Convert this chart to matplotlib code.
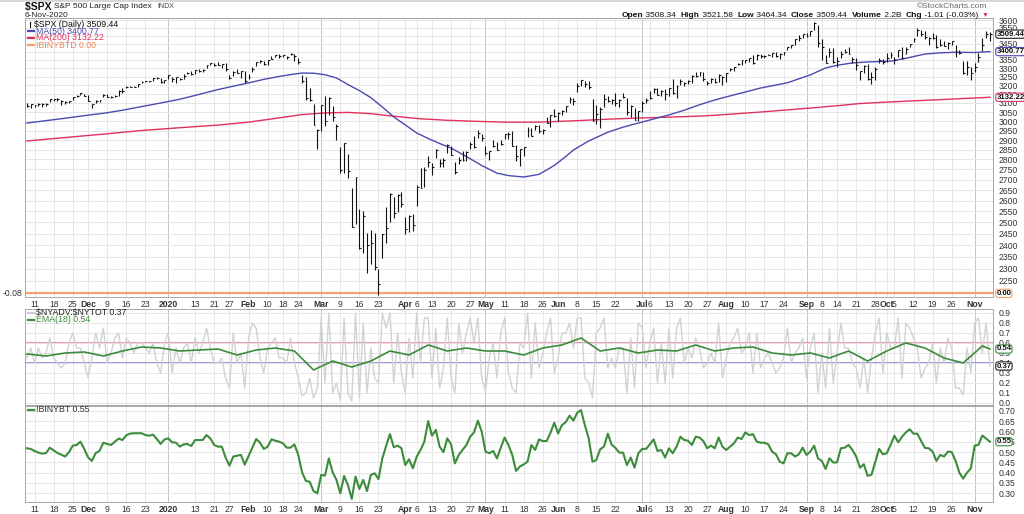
import numpy as np
import matplotlib.pyplot as plt
from matplotlib.lines import Line2D
from matplotlib.ticker import FixedLocator, NullLocator

plt.rcParams['font.family'] = ['Liberation Sans', 'DejaVu Sans']
plt.rcParams['text.parse_math'] = False

# one entry per session, 7-Nov-2019 .. 6-Nov-2020
spx_close = [
    3085.18, 3093.08, 3087.01, 3091.84, 3094.04, 3096.63, 3120.46, 3122.03, 3120.18, 3108.46, 3103.54, 3110.29, 3133.64, 3140.52, 3153.63, 3140.98,
    3113.87, 3093.20, 3112.76, 3117.43, 3145.91, 3135.96, 3132.52, 3141.63, 3168.57, 3168.80, 3191.45, 3192.52, 3191.14, 3205.37, 3221.22, 3224.01, 3223.38, 3239.91, 3240.02, 3221.29, 3230.78,
    3257.85, 3234.85, 3246.28, 3237.18, 3253.05, 3274.70, 3265.35, 3288.13, 3283.15, 3289.29, 3316.81, 3329.62, 3320.79, 3321.75, 3325.54, 3295.47, 3243.63, 3276.24, 3273.40, 3283.66, 3225.52,
    3248.92, 3297.59, 3334.69, 3345.78, 3327.71, 3352.09, 3357.75, 3379.45, 3373.94, 3380.16, 3370.29, 3386.15, 3373.23, 3337.75, 3225.89, 3128.21, 3116.39, 2978.76, 2954.22,
    3090.23, 3003.37, 3130.12, 3023.94, 2972.37, 2746.56, 2882.23, 2741.38, 2480.64, 2711.02, 2386.13, 2529.19, 2398.10, 2409.39, 2304.92, 2237.40, 2447.33, 2475.56, 2630.07, 2541.47, 2626.65, 2584.59,
    2470.50, 2526.90, 2488.65, 2663.68, 2659.41, 2749.98, 2789.82, 2761.63, 2846.06, 2783.36, 2799.55, 2874.56, 2823.16, 2736.56, 2799.31, 2797.80, 2836.74, 2878.48, 2863.39, 2939.51, 2912.43,
    2830.71, 2842.74, 2868.44, 2848.42, 2881.19, 2929.80, 2930.32, 2870.12, 2820.00, 2852.50, 2863.70, 2953.91, 2922.94, 2971.61, 2948.51, 2955.45, 2991.77, 3036.13, 3029.73, 3044.31,
    3055.73, 3080.82, 3122.87, 3112.35, 3193.93, 3232.39, 3207.18, 3190.14, 3002.10, 3041.31, 3066.59, 3124.74, 3113.49, 3115.34, 3097.74, 3117.86, 3131.29, 3050.33, 3083.76, 3009.05, 3053.24, 3100.29,
    3115.86, 3130.01, 3179.72, 3145.32, 3169.94, 3152.05, 3185.04, 3155.22, 3197.52, 3226.56, 3215.57, 3224.73, 3251.84, 3257.30, 3276.02, 3235.66, 3215.63, 3239.41, 3218.44, 3258.44, 3246.22, 3271.12,
    3294.61, 3306.51, 3327.77, 3349.16, 3351.28, 3360.47, 3333.69, 3380.35, 3373.43, 3372.85, 3381.99, 3389.78, 3374.85, 3385.51, 3397.16, 3431.28, 3443.62, 3478.73, 3484.55, 3508.01, 3500.31,
    3526.65, 3580.84, 3455.06, 3426.96, 3331.84, 3398.96, 3339.19, 3340.97, 3383.54, 3401.20, 3385.49, 3357.01, 3319.47, 3281.06, 3315.57, 3236.92, 3246.59, 3298.46, 3351.60, 3335.47, 3363.00,
    3380.80, 3348.44, 3408.63, 3360.95, 3419.45, 3446.83, 3477.14, 3534.22, 3511.93, 3488.67, 3483.34, 3483.81, 3426.92, 3443.12, 3435.56, 3453.49, 3465.39, 3400.97, 3390.68, 3271.03, 3310.11, 3269.96,
    3310.24, 3369.16, 3443.44, 3510.45, 3509.44,
]
spx_high = [
    3097.77, 3093.09, 3088.33, 3102.61, 3098.06, 3098.20, 3120.46, 3124.24, 3127.64, 3118.97, 3110.11, 3112.87, 3133.83, 3142.69, 3154.26, 3150.30,
    3144.31, 3094.97, 3119.38, 3119.45, 3150.60, 3148.87, 3142.12, 3143.98, 3176.28, 3182.68, 3197.71, 3198.22, 3198.48, 3205.48, 3225.65, 3227.78, 3226.43, 3240.08, 3247.93, 3240.92, 3231.72,
    3258.14, 3246.15, 3246.84, 3244.91, 3267.07, 3275.58, 3282.99, 3288.13, 3294.25, 3298.66, 3317.11, 3329.88, 3329.79, 3337.77, 3326.88, 3333.18, 3258.85, 3285.78, 3293.47, 3285.91, 3282.33,
    3268.44, 3306.92, 3337.58, 3347.96, 3341.42, 3352.26, 3375.63, 3381.47, 3385.09, 3380.69, 3375.01, 3393.52, 3389.15, 3360.76, 3259.81, 3246.99, 3182.51, 3097.07, 2959.72,
    3090.96, 3136.72, 3130.94, 3083.04, 2985.93, 2863.89, 2882.59, 2825.60, 2660.95, 2711.33, 2562.98, 2553.93, 2453.57, 2466.97, 2453.01, 2300.73, 2449.71, 2571.42, 2637.01, 2615.91, 2631.80, 2641.39,
    2522.75, 2533.22, 2538.18, 2674.93, 2756.89, 2760.82, 2818.57, 2782.46, 2851.85, 2801.88, 2806.51, 2879.22, 2868.98, 2785.54, 2815.10, 2844.24, 2842.71, 2887.72, 2921.40, 2954.86, 2930.91,
    2869.09, 2844.24, 2898.23, 2891.11, 2901.92, 2932.16, 2944.25, 2945.82, 2874.68, 2852.80, 2865.01, 2968.09, 2964.21, 2980.29, 2978.50, 2956.76, 3021.72, 3036.25, 3068.67, 3049.17,
    3062.18, 3081.07, 3130.94, 3128.91, 3211.72, 3233.13, 3222.71, 3223.27, 3123.53, 3088.42, 3079.76, 3153.45, 3141.16, 3120.92, 3155.53, 3120.85, 3154.90, 3128.44, 3086.25, 3073.73, 3053.89, 3111.51,
    3128.44, 3165.81, 3182.59, 3184.15, 3171.80, 3179.78, 3186.82, 3235.32, 3200.95, 3238.28, 3220.39, 3233.52, 3258.61, 3277.29, 3279.32, 3279.99, 3227.26, 3241.43, 3243.72, 3264.74, 3254.86, 3272.00,
    3302.73, 3306.84, 3330.77, 3351.03, 3352.54, 3363.29, 3381.01, 3387.24, 3387.24, 3378.51, 3387.59, 3395.06, 3399.54, 3390.80, 3399.96, 3432.09, 3444.21, 3481.07, 3501.61, 3509.23, 3514.77,
    3528.03, 3588.11, 3564.85, 3479.15, 3379.97, 3424.77, 3425.55, 3368.95, 3402.93, 3419.48, 3428.92, 3369.10, 3362.27, 3285.57, 3320.31, 3323.35, 3278.70, 3306.88, 3360.74, 3357.92, 3393.56,
    3397.18, 3369.10, 3409.57, 3431.56, 3426.26, 3447.28, 3482.34, 3549.85, 3534.01, 3527.94, 3489.08, 3515.76, 3502.42, 3476.93, 3464.86, 3460.53, 3466.46, 3441.42, 3409.51, 3342.48, 3341.05, 3304.93,
    3330.14, 3389.49, 3486.25, 3529.05, 3521.58,
]
spx_low = [
    3080.23, 3073.58, 3075.82, 3084.73, 3078.80, 3083.26, 3104.60, 3109.59, 3113.47, 3091.41, 3094.55, 3099.26, 3117.44, 3131.00, 3143.41, 3139.34,
    3110.78, 3070.33, 3102.53, 3103.76, 3134.62, 3135.46, 3126.09, 3133.21, 3138.47, 3156.51, 3183.63, 3191.03, 3191.14, 3192.32, 3216.03, 3222.30, 3220.51, 3227.20, 3234.37, 3216.57, 3212.03,
    3235.53, 3222.34, 3214.64, 3232.43, 3236.67, 3263.67, 3260.86, 3268.43, 3277.19, 3280.69, 3302.82, 3318.86, 3316.61, 3320.04, 3301.87, 3281.53, 3234.50, 3253.22, 3271.89, 3242.80, 3214.68,
    3235.66, 3280.61, 3313.75, 3334.39, 3322.12, 3317.77, 3352.72, 3369.72, 3360.52, 3366.15, 3355.61, 3378.83, 3341.02, 3328.45, 3214.65, 3118.77, 3108.99, 2977.39, 2855.84,
    2945.19, 2976.63, 3034.38, 2999.83, 2901.54, 2734.43, 2734.00, 2707.22, 2478.86, 2492.37, 2380.94, 2367.04, 2280.52, 2319.78, 2295.56, 2191.86, 2344.44, 2407.53, 2500.72, 2520.02, 2545.28, 2571.15,
    2447.49, 2455.79, 2459.96, 2575.06, 2657.67, 2663.30, 2762.36, 2721.17, 2805.10, 2761.54, 2764.32, 2830.88, 2820.43, 2727.10, 2775.95, 2794.26, 2791.76, 2852.89, 2860.71, 2912.16, 2892.47,
    2821.61, 2797.85, 2863.55, 2847.65, 2876.48, 2902.88, 2903.44, 2869.59, 2793.15, 2766.64, 2816.78, 2913.86, 2922.35, 2953.63, 2938.57, 2933.59, 2988.17, 2969.75, 3023.40, 2998.61,
    3031.54, 3051.64, 3097.44, 3090.41, 3163.84, 3196.00, 3193.11, 3181.49, 2999.49, 2984.47, 2965.66, 3076.06, 3108.03, 3093.51, 3083.11, 3079.77, 3127.12, 3032.13, 3024.01, 3004.63, 2999.74, 3047.83,
    3101.17, 3124.52, 3155.29, 3142.93, 3136.53, 3115.70, 3140.08, 3149.43, 3127.66, 3200.76, 3198.59, 3205.65, 3215.16, 3247.77, 3253.10, 3222.66, 3200.05, 3214.25, 3216.17, 3220.51, 3204.13, 3220.26,
    3284.53, 3286.37, 3317.37, 3318.14, 3328.72, 3335.44, 3326.44, 3352.26, 3363.35, 3361.64, 3379.22, 3370.15, 3369.66, 3354.69, 3379.31, 3413.13, 3421.58, 3444.15, 3468.35, 3484.32, 3493.25,
    3494.60, 3535.23, 3427.41, 3349.63, 3329.27, 3366.84, 3329.25, 3310.47, 3363.56, 3389.25, 3384.45, 3328.82, 3292.40, 3229.10, 3270.95, 3232.57, 3209.45, 3228.44, 3332.91, 3327.54, 3340.47,
    3361.39, 3323.69, 3367.27, 3354.54, 3384.56, 3428.15, 3458.07, 3499.61, 3500.86, 3480.55, 3440.89, 3480.45, 3419.93, 3435.65, 3433.06, 3415.34, 3440.45, 3364.86, 3388.71, 3268.89, 3259.82, 3233.94,
    3279.74, 3336.25, 3405.17, 3485.74, 3464.34,
]

# moving averages (session index, value)
ma50_days = [0, 5, 10, 15, 21, 25, 30, 35, 40, 45, 50, 55, 58, 62, 66, 70, 72, 75, 78, 81, 84, 87, 90, 93, 96, 99, 102, 105,
             108, 111, 115, 119, 123, 126, 130, 134, 138, 141, 143, 147, 152, 156, 160, 164, 168, 172, 176, 180, 184, 188,
             192, 196, 199, 202, 205, 209, 212, 216, 220, 226, 230, 235, 239, 243, 248, 252]
ma50_vals = [2990, 3003, 3016, 3030, 3046, 3060, 3080, 3100, 3121, 3148, 3176, 3200, 3214, 3235, 3252, 3266, 3272, 3271, 3262,
             3243, 3205, 3170, 3130, 3078, 3023, 2980, 2937, 2908, 2882, 2858, 2815, 2770, 2732, 2720, 2713, 2726, 2770, 2815,
             2848, 2895, 2941, 2968, 2990, 3012, 3034, 3060, 3090, 3117, 3140, 3162, 3185, 3202, 3215, 3238, 3261, 3302, 3318,
             3332, 3338, 3343, 3360, 3386, 3393, 3397, 3395, 3400.77]
ma200_days = [0, 10, 20, 30, 40, 50, 58, 65, 72, 78, 84, 90, 96, 103, 110, 118, 125, 134, 143, 152, 160, 168, 175, 180, 186,
              192, 198, 205, 212, 218, 225, 235, 244, 252]
ma200_vals = [2895, 2913, 2931, 2950, 2965, 2979, 2995, 3015, 3036, 3045, 3048, 3041, 3027, 3013, 3005, 2999, 2995, 2995, 3002,
              3011, 3017, 3022, 3027, 3032, 3041, 3050, 3060, 3072, 3085, 3097, 3105, 3115, 3124, 3132.22]

# $NYADV:$NYTOT, daily
nyadv_ratio = [
    0.45, 0.55, 0.40, 0.55, 0.45, 0.50, 0.65, 0.45, 0.40, 0.35, 0.40, 0.60, 0.70, 0.55, 0.55, 0.40,
    0.25, 0.45, 0.70, 0.55, 0.75, 0.40, 0.50, 0.65, 0.70, 0.45, 0.65, 0.60, 0.50, 0.60, 0.60, 0.55, 0.50, 0.60, 0.40, 0.30, 0.60,
    0.70, 0.30, 0.55, 0.40, 0.55, 0.60, 0.40, 0.65, 0.50, 0.60, 0.75, 0.55, 0.40, 0.40, 0.45, 0.25, 0.15, 0.70, 0.40, 0.50, 0.15,
    0.65, 0.80, 0.75, 0.45, 0.30, 0.55, 0.60, 0.65, 0.45, 0.45, 0.40, 0.65, 0.40, 0.25, 0.07, 0.10, 0.25, 0.05, 0.15,
    0.85, 0.20, 0.90, 0.10, 0.20, 0.03, 0.85, 0.10, 0.02, 0.90, 0.05, 0.80, 0.10, 0.55, 0.25, 0.20, 0.90, 0.75, 0.90, 0.20, 0.70, 0.30,
    0.10, 0.65, 0.25, 0.90, 0.40, 0.85, 0.85, 0.25, 0.75, 0.15, 0.35, 0.85, 0.25, 0.10, 0.80, 0.50, 0.70, 0.85, 0.60, 0.85, 0.25,
    0.12, 0.45, 0.60, 0.25, 0.70, 0.85, 0.30, 0.15, 0.10, 0.60, 0.55, 0.90, 0.25, 0.80, 0.35, 0.50, 0.70, 0.85, 0.30, 0.45,
    0.70, 0.70, 0.80, 0.55, 0.85, 0.85, 0.25, 0.20, 0.05, 0.70, 0.75, 0.85, 0.35, 0.45, 0.35, 0.55, 0.55, 0.10, 0.65, 0.15, 0.80, 0.75,
    0.35, 0.60, 0.75, 0.20, 0.60, 0.20, 0.75, 0.25, 0.75, 0.85, 0.40, 0.55, 0.45, 0.65, 0.55, 0.35, 0.40, 0.50, 0.40, 0.80, 0.25, 0.45,
    0.60, 0.65, 0.75, 0.50, 0.55, 0.70, 0.30, 0.70, 0.35, 0.45, 0.50, 0.40, 0.30, 0.35, 0.45, 0.75, 0.40, 0.50, 0.55, 0.65, 0.25,
    0.55, 0.70, 0.10, 0.50, 0.15, 0.75, 0.20, 0.50, 0.80, 0.55, 0.55, 0.40, 0.35, 0.15, 0.45, 0.10, 0.45, 0.70, 0.85, 0.30, 0.70,
    0.55, 0.55, 0.85, 0.25, 0.80, 0.75, 0.65, 0.55, 0.25, 0.35, 0.40, 0.60, 0.20, 0.55, 0.40, 0.65, 0.55, 0.15, 0.15, 0.08, 0.55, 0.30,
    0.80, 0.85, 0.50, 0.80, 0.37,
]
ema_days = [0, 5, 10, 15, 20, 25, 30, 35, 40, 45, 50, 55, 60, 65, 70, 75, 80, 85, 90, 95, 100, 105, 110, 115, 120, 125,
            130, 135, 140, 145, 150, 155, 160, 165, 170, 175, 180, 185, 190, 195, 200, 205, 210, 215, 220, 225, 230, 235, 240, 245, 250, 252]
ema_vals = [0.49, 0.47, 0.50, 0.51, 0.47, 0.52, 0.56, 0.55, 0.52, 0.53, 0.54, 0.48, 0.53, 0.55, 0.52, 0.33, 0.42, 0.36, 0.42, 0.52,
            0.48, 0.58, 0.52, 0.55, 0.52, 0.52, 0.48, 0.55, 0.58, 0.65, 0.52, 0.55, 0.50, 0.53, 0.52, 0.58, 0.52, 0.55, 0.56, 0.50,
            0.48, 0.50, 0.45, 0.52, 0.42, 0.52, 0.60, 0.55, 0.45, 0.40, 0.57, 0.54]

# !BINYBT, daily
binybt = [
    0.518, 0.515, 0.505, 0.497, 0.492, 0.495, 0.521, 0.508, 0.495, 0.487, 0.478, 0.499, 0.531, 0.534, 0.550, 0.515,
    0.474, 0.457, 0.495, 0.505, 0.545, 0.539, 0.534, 0.550, 0.565, 0.558, 0.581, 0.589, 0.591, 0.591, 0.591, 0.582, 0.579, 0.584, 0.563, 0.539, 0.561,
    0.566, 0.547, 0.545, 0.526, 0.537, 0.539, 0.529, 0.558, 0.558, 0.558, 0.582, 0.566, 0.534, 0.526, 0.526, 0.473, 0.434, 0.478, 0.482, 0.486, 0.439,
    0.481, 0.521, 0.563, 0.545, 0.515, 0.526, 0.561, 0.555, 0.550, 0.542, 0.521, 0.521, 0.537, 0.486, 0.402, 0.360, 0.356, 0.311, 0.300,
    0.389, 0.386, 0.469, 0.402, 0.365, 0.300, 0.384, 0.340, 0.273, 0.381, 0.321, 0.365, 0.311, 0.389, 0.397, 0.369, 0.469, 0.530, 0.587, 0.523, 0.531, 0.518,
    0.437, 0.465, 0.421, 0.478, 0.510, 0.550, 0.650, 0.579, 0.607, 0.526, 0.499, 0.566, 0.537, 0.445, 0.486, 0.510, 0.534, 0.574, 0.595, 0.652, 0.599,
    0.502, 0.494, 0.505, 0.469, 0.521, 0.570, 0.534, 0.486, 0.408, 0.430, 0.440, 0.453, 0.534, 0.510, 0.561, 0.553, 0.553, 0.593, 0.642, 0.590,
    0.630, 0.645, 0.676, 0.652, 0.690, 0.703, 0.630, 0.566, 0.453, 0.461, 0.513, 0.526, 0.589, 0.536, 0.520, 0.497, 0.497, 0.437, 0.473, 0.424, 0.494, 0.515,
    0.515, 0.537, 0.561, 0.505, 0.510, 0.473, 0.518, 0.494, 0.526, 0.574, 0.558, 0.555, 0.534, 0.574, 0.570, 0.553, 0.518, 0.531, 0.518, 0.570, 0.526, 0.510,
    0.526, 0.542, 0.570, 0.563, 0.595, 0.582, 0.586, 0.550, 0.545, 0.545, 0.537, 0.502, 0.489, 0.453, 0.445, 0.494, 0.494, 0.478, 0.489, 0.521, 0.486,
    0.502, 0.531, 0.469, 0.457, 0.418, 0.470, 0.449, 0.450, 0.518, 0.521, 0.534, 0.510, 0.478, 0.424, 0.441, 0.384, 0.390, 0.452, 0.515, 0.489, 0.494,
    0.534, 0.579, 0.547, 0.574, 0.595, 0.610, 0.589, 0.589, 0.553, 0.520, 0.518, 0.502, 0.457, 0.486, 0.478, 0.502, 0.500, 0.457, 0.400, 0.371, 0.400, 0.421,
    0.531, 0.535, 0.580, 0.565, 0.550,
]

# date axis: (session index, label, month start)
date_ticks = [(2, '11', 0), (7, '18', 0), (12, '25', 0), (16, 'Dec', 1), (21, '9', 0), (26, '16', 0), (31, '23', 0),
              (37, '2020', 1), (44, '13', 0), (49, '21', 0), (53, '27', 0), (58, 'Feb', 1), (63, '10', 0), (67, '18', 0),
              (71, '24', 0), (77, 'Mar', 1), (82, '9', 0), (87, '16', 0), (92, '23', 0), (99, 'Apr', 1), (102, '6', 0),
              (106, '13', 0), (111, '20', 0), (116, '27', 0), (120, 'May', 1), (125, '11', 0), (130, '18', 0), (135, '26', 0),
              (139, 'Jun', 1), (144, '8', 0), (149, '15', 0), (154, '22', 0), (161, 'Jul', 1), (163, '6', 0), (168, '13', 0),
              (173, '20', 0), (178, '27', 0), (183, 'Aug', 1), (188, '10', 0), (193, '17', 0), (198, '24', 0), (204, 'Sep', 1),
              (208, '8', 0), (212, '14', 0), (217, '21', 0), (222, '28', 0), (225, 'Oct', 1), (227, '5', 0), (232, '12', 0),
              (237, '19', 0), (242, '26', 0), (248, 'Nov', 1)]
dark_months = ['2020', 'Mar', 'May', 'Jul', 'Sep', 'Nov']

W, H = 1024, 514
fig = plt.figure(figsize=(W / 100, H / 100), dpi=100)


def box(x0, y0, x1, y1):
    return [x0 / W, 1 - y1 / H, (x1 - x0) / W, (y1 - y0) / H]


ax1 = fig.add_axes(box(25, 18, 993, 297))
ax2 = fig.add_axes(box(25, 309, 993, 405))
ax3 = fig.add_axes(box(25, 406, 993, 502))

days = np.arange(len(spx_close))
tick_pos = [d for d, _, _ in date_ticks]
tick_lab = [t for _, t, _ in date_ticks]

for ax in (ax1, ax2, ax3):
    ax.set_xlim(-0.5, 252.8)
    for d, t, m in date_ticks:
        c = '#c4c4c4' if t in dark_months else '#e6e6e6'
        ax.axvline(d, color=c, lw=0.7, zorder=0)
    ax.grid(axis='y', color='#e6e6e6', lw=0.7, zorder=0)
    ax.yaxis.tick_right()
    ax.tick_params(axis='y', length=0, pad=4, labelsize=6.2, labelcolor='#333333')
    ax.tick_params(axis='x', length=0, pad=2, labelsize=6.2, labelcolor='#333333')
    for s in ax.spines.values():
        s.set_color('#a8a8a8')
        s.set_linewidth(0.7)
    ax.set_xticks(tick_pos)
    ax.set_xticklabels(tick_lab)
    for lab, (_, _, m) in zip(ax.get_xticklabels(), date_ticks):
        if m:
            lab.set_fontweight('bold')
ax2.tick_params(axis='x', labelbottom=False)

# price panel
ax1.set_yscale('log')
ax1.set_ylim(2185.6, 3613)
ax1.yaxis.set_major_locator(FixedLocator(list(range(2250, 3601, 50))))
ax1.yaxis.set_minor_locator(NullLocator())
ax1.set_yticklabels([str(v) for v in range(2250, 3601, 50)])
ax1.plot(ma200_days, ma200_vals, color='#e0325e', lw=1.0, zorder=2)
ax1.plot(ma50_days, ma50_vals, color='#4a4ab0', lw=1.0, zorder=2)
ax1.vlines(days, spx_low, spx_high, color='#111111', lw=0.8, zorder=3)
ax1.hlines(spx_close, days, days + 0.5, color='#111111', lw=0.8, zorder=3)
ax1.plot([0, 1], [0.013, 0.013], transform=ax1.transAxes, color='#f5a070', lw=1.6, zorder=2)

# breadth panel
ax2.set_ylim(-0.02, 0.94)
ax2.set_yticks([i / 10 for i in range(10)])
ax2.set_yticklabels(['%.1f' % (i / 10) for i in range(10)])
ax2.axhline(0.6, color='#e8788e', lw=1.1, zorder=1)
ax2.axhline(0.4, color='#7d7dd4', lw=1.1, zorder=1)
ax2.plot(days, nyadv_ratio, color='#d2d2d2', lw=1.0, zorder=2)
ax2.plot(ema_days, ema_vals, color='#3c8c3c', lw=1.2, zorder=3)

# bullish percent panel
ax3.set_ylim(0.2579, 0.7228)
ax3.set_yticks([0.30, 0.35, 0.40, 0.45, 0.50, 0.55, 0.60, 0.65, 0.70])
ax3.set_yticklabels(['0.30', '0.35', '0.40', '0.45', '0.50', '0.55', '0.60', '0.65', '0.70'])
ax3.plot(days, binybt, color='#3c8c3c', lw=1.5, zorder=3)


def tag(ax, y, text, ec, trans=None):
    ax.text(1.0035, y, text, transform=trans or ax.get_yaxis_transform(), fontsize=5.6,
            fontweight='bold', va='center', ha='left', color='#111111', zorder=5,
            bbox=dict(boxstyle='round,pad=0.08,rounding_size=0.3', fc='white', ec=ec, lw=0.8), clip_on=False)


tag(ax1, spx_close[-1], '%.2f' % spx_close[-1], '#222222')
tag(ax1, ma50_vals[-1], '%.2f' % ma50_vals[-1], '#4a4ab0')
tag(ax1, ma200_vals[-1], '%.2f' % ma200_vals[-1], '#e0325e')
tag(ax1, 0.013, '0.00', '#f5a070', trans=ax1.transAxes)
tag(ax2, ema_vals[-1], '%.2f' % ema_vals[-1], '#3c8c3c')
tag(ax2, nyadv_ratio[-1], '%.2f' % nyadv_ratio[-1], '#222222')
tag(ax3, binybt[-1], '%.2f' % binybt[-1], '#3c8c3c')


def legend_item(x, y, color, text, tcolor):
    fig.add_artist(Line2D([x / W, (x + 6) / W], [1 - y / H, 1 - y / H], color=color, lw=1.6))
    fig.text((x + 8) / W, 1 - y / H, text, color=tcolor, fontsize=6.3, va='center')


fig.add_artist(Line2D([29.5 / W, 29.5 / W], [1 - 21.5 / H, 1 - 27 / H], color='black', lw=0.8))
fig.text(34 / W, 1 - 24 / H, '$SPX (Daily) %.2f' % spx_close[-1], fontsize=6.3, va='center', color='#111111')
legend_item(28, 31, '#4a4ab0', 'MA(50) %.2f' % ma50_vals[-1], '#4a4ab0')
legend_item(28, 38, '#e0325e', 'MA(200) %.2f' % ma200_vals[-1], '#e0325e')
legend_item(28, 45, '#f5a070', '!BINYBTD 0.00', '#f08050')
legend_item(28, 313, '#cdcdcd', '$NYADV:$NYTOT %.2f' % nyadv_ratio[-1], '#222222')
legend_item(28, 320, '#3c8c3c', 'EMA(18) %.2f' % ema_vals[-1], '#3c8c3c')
legend_item(28, 410, '#3c8c3c', '!BINYBT %.2f' % binybt[-1], '#333333')

fig.text(22 / W, 1 - 293 / H, '-0.08', fontsize=6.2, ha='right', va='center', color='#333333')

# header
fig.canvas.draw()
r = fig.canvas.get_renderer()


def run_text(x, y, parts, ha='left'):
    items = []
    for txt, size, bold, color in parts:
        t = fig.text(0, 1 - y / H, txt, fontsize=size, fontweight='bold' if bold else 'normal', va='center', color=color)
        items.append((t, t.get_window_extent(renderer=r).width))
    total = sum(w for _, w in items)
    xpos = x - total if ha == 'right' else x
    for t, w in items:
        t.set_x(xpos / W)
        xpos += w


run_text(25, 7, [('$SPX ', 7.5, True, '#111111'), ('S&P 500 Large Cap Index  ', 6, False, '#222222'),
                 ('INDX', 5, False, '#444444')])
fig.text(25 / W, 1 - 15.5 / H, '6-Nov-2020', fontsize=6, va='center', color='#222222')
fig.text(987 / W, 1 - 7 / H, '\u00a9StockCharts.com', fontsize=6, ha='right', va='center', color='#666666')
run_text(988, 15.5, [('Open', 6, True, '#111111'), (' 3508.34  ', 6, False, '#111111'),
                     ('High', 6, True, '#111111'), (' 3521.58  ', 6, False, '#111111'),
                     ('Low', 6, True, '#111111'), (' 3464.34  ', 6, False, '#111111'),
                     ('Close', 6, True, '#111111'), (' 3509.44  ', 6, False, '#111111'),
                     ('Volume', 6, True, '#111111'), (' 2.2B  ', 6, False, '#111111'),
                     ('Chg', 6, True, '#111111'), (' -1.01 (-0.03%) ', 6, False, '#111111'),
                     ('\u25bc', 5, False, '#e0325e')], ha='right')

fig.add_artist(Line2D([0, 1], [1 - 0.8 / H, 1 - 0.8 / H], color='#d0d0d0', lw=1.2))

fig.savefig('out.png', dpi=100, facecolor='white')
